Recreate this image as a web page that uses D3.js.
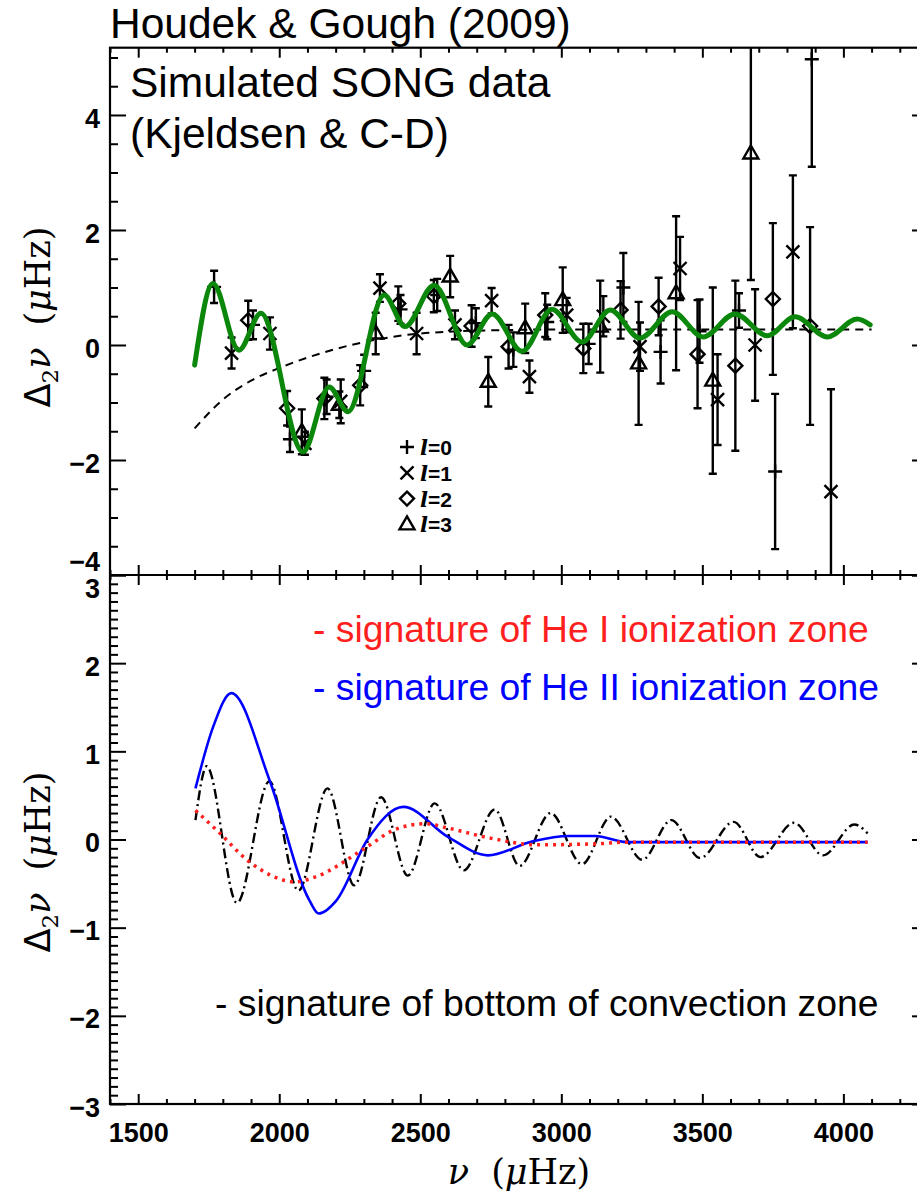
<!DOCTYPE html>
<html>
<head>
<meta charset="utf-8">
<script src="https://cdn.jsdelivr.net/npm/d3@7"></script>
<style>
    body { margin: 0; background: #fff; }
    text { font-family: "Liberation Sans", Arial, sans-serif; fill: #000; }
    .tick text { font-family: "Liberation Sans", Arial, sans-serif; font-weight: bold; font-size: 27px; }
</style>
</head>
<body>
<div id="chart"></div>
<script>
// ---- top panel: simulated SONG data, second differences (muHz) ----
const nuL0  = [1769, 1907, 2038, 2168, 2301, 2430, 2560, 2697, 2830, 2950, 3097, 3220, 3352, 3490, 3630, 3758, 3888]
const dL0   = [1.01, 0.35, -1.64, -0.90, -0.45, 0.62, 0.87, 0.38, -0.08, 0.40, 0.02, 1.00, -0.12, 0.24, 0.60, -2.20, 4.97]
const errL0 = [0.28, 0.25, 0.22, 0.30, 0.28, 0.25, 0.28, 0.26, 0.30, 0.30, 0.35, 0.60, 0.55, 0.55, 0.30, 1.35, 1.87]

const nuL1  = [1831, 1967, 2091, 2218, 2357, 2487, 2623, 2753, 2887, 3019, 3149, 3279, 3421, 3554, 3687, 3821, 3956]
const dL1   = [-0.14, 0.20, -1.71, -0.98, 0.99, 0.20, 0.35, 0.77, -0.55, 0.52, 0.50, -0.03, 1.33, -0.95, 0.00, 1.62, -2.55]
const errL1 = [0.27, 0.28, 0.20, 0.38, 0.24, 0.36, 0.25, 0.22, 0.28, 0.30, 0.35, 0.42, 0.55, 0.79, 0.97, 1.33, 1.78]

const nuL2  = [1890, 2028, 2160, 2287, 2422, 2548, 2682, 2813, 2943, 3078, 3210, 3345, 3483, 3617, 3750, 3882]
const dL2   = [0.43, -1.10, -0.93, -0.70, 0.72, 0.85, 0.33, -0.03, 0.52, -0.06, 0.61, 0.67, -0.16, -0.36, 0.80, 0.33]
const errL2 = [0.34, 0.30, 0.36, 0.35, 0.30, 0.28, 0.36, 0.38, 0.38, 0.43, 0.50, 0.50, 0.94, 1.48, 1.32, 1.72]

const nuL3  = [2080, 2213, 2342, 2606, 2741, 2872, 3005, 3138, 3274, 3407, 3537, 3672]
const dL3   = [-1.51, -1.04, 0.20, 1.19, -0.64, 0.29, 0.78, 0.32, -0.32, 0.90, -0.62, 3.33]
const errL3 = [0.39, 0.23, 0.36, 0.36, 0.43, 0.43, 0.57, 0.80, 1.07, 1.34, 1.62, 2.20]

// fitted model (green) and smooth component (dashed)
const fitNu = [1700, 1765, 1857, 1935, 2084, 2177, 2244, 2372, 2446, 2549, 2666, 2755, 2861, 2967, 3074, 3173, 3279, 3393, 3503, 3616, 3730, 3829, 3943, 4049, 4095]
const fitD  = [-0.35, 1.07, -0.09, 0.55, -1.86, -0.73, -1.16, 0.87, 0.32, 1.04, 0.00, 0.54, -0.11, 0.62, 0.05, 0.61, 0.12, 0.58, 0.14, 0.54, 0.16, 0.49, 0.14, 0.45, 0.35]
const smoothNu = [1700, 1800, 1900, 2000, 2100, 2200, 2300, 2400, 2500, 2600, 2800, 3000, 4100]
const smoothD  = [-1.45, -0.95, -0.62, -0.40, -0.22, -0.07, 0.05, 0.14, 0.20, 0.23, 0.26, 0.27, 0.27]

// ---- bottom panel: individual signatures ----
const heINu  = [1703, 1790, 1885, 2060, 2123, 2313, 2408, 2519, 2598, 2756, 2914, 3120, 3231, 4086]
const heID   = [0.33, 0.07, -0.23, -0.48, -0.43, -0.08, 0.11, 0.18, 0.13, 0.01, -0.06, -0.05, -0.03, -0.03]
const heIINu = [1703, 1766, 1830, 1966, 2107, 2140, 2203, 2313, 2440, 2598, 2740, 2899, 3026, 3120, 3231, 4086]
const heIID  = [0.58, 1.28, 1.66, 0.67, -0.69, -0.84, -0.69, 0.00, 0.37, 0.03, -0.18, -0.02, 0.04, 0.04, -0.03, -0.03]
const bczNu  = [1703, 1743, 1850, 1965, 2068, 2171, 2266, 2361, 2456, 2551, 2654, 2764, 2852, 2962, 3073, 3176, 3287, 3390, 3492, 3611, 3706, 3825, 3928, 4039, 4086]
const bczD   = [0.22, 0.83, -0.72, 0.66, -0.58, 0.58, -0.52, 0.48, -0.41, 0.41, -0.35, 0.34, -0.30, 0.30, -0.28, 0.26, -0.23, 0.22, -0.21, 0.20, -0.20, 0.19, -0.18, 0.17, 0.07]

// ticks
const xMajor = [1500, 2000, 2500, 3000, 3500, 4000]
const yTopMajor = [-4, -2, 0, 2, 4]
const yBotMajor = [-3, -2, -1, 0, 1, 2, 3]


const width = 917, height = 1197
const margin = {left: 110, right: 928, top: 47.7, mid: 575, bottom: 1104}

const svg = d3.select('#chart').append('svg')
    .attr('width', width)
    .attr('height', height)

const x = d3.scaleLinear().domain([1400, 4300]).range([margin.left, margin.right])
const yTop = d3.scaleLinear().domain([-4, 5.17]).range([margin.mid, margin.top])
const yBot = d3.scaleLinear().domain([-3, 3]).range([margin.bottom, margin.mid])

const xMinor = d3.range(1400, 4301, 100).filter(v => !xMajor.includes(v))
const yTopMinor = d3.range(-4, 5.01, 0.5).filter(v => !yTopMajor.includes(v))
const yBotMinor = d3.range(-30, 31, 1).map(v => v / 10).filter(v => !yBotMajor.includes(v))

// clip paths
const defs = svg.append('defs')
defs.append('clipPath').attr('id', 'clipTop').append('rect')
    .attr('x', margin.left).attr('y', margin.top)
    .attr('width', margin.right - margin.left).attr('height', margin.mid - margin.top)
defs.append('clipPath').attr('id', 'clipBot').append('rect')
    .attr('x', margin.left).attr('y', margin.mid)
    .attr('width', margin.right - margin.left).attr('height', margin.bottom - margin.mid)

// ---------- axes ----------
function drawAxis(axisFn, scale, values, size, transform, labels, pad) {
    let ax = axisFn(scale).tickValues(values).tickSizeInner(size).tickSizeOuter(0).tickPadding(pad || 8)
    if (!labels) ax.tickFormat('')
    else ax.tickFormat(d => d3.format('d')(d).replace('-', '\u2212'))
    let g = svg.append('g').attr('transform', transform).call(ax)
    g.select('.domain').remove()
    g.selectAll('line').attr('stroke', '#000').attr('stroke-width', 2)
    return g
}

// x ticks: top of top panel, shared middle line, bottom
drawAxis(d3.axisTop, x, xMajor, -10, `translate(0,${margin.top})`, false)
drawAxis(d3.axisTop, x, xMinor, -5, `translate(0,${margin.top})`, false)
drawAxis(d3.axisBottom, x, xMajor, -10, `translate(0,${margin.mid})`, false)
drawAxis(d3.axisBottom, x, xMinor, -5, `translate(0,${margin.mid})`, false)
drawAxis(d3.axisTop, x, xMajor, -10, `translate(0,${margin.mid})`, false)
drawAxis(d3.axisTop, x, xMinor, -5, `translate(0,${margin.mid})`, false)
drawAxis(d3.axisBottom, x, xMajor, -10, `translate(0,${margin.bottom})`, true, 19)
drawAxis(d3.axisBottom, x, xMinor, -5, `translate(0,${margin.bottom})`, false)

// y ticks (the -4 / 3 labels sit either side of the shared line)
drawAxis(d3.axisLeft, yTop, yTopMajor, -16, `translate(${margin.left},0)`, true, 10)
    .selectAll('text').attr('dy', d => d === -4 ? '-0.17em' : '0.45em')
drawAxis(d3.axisLeft, yTop, yTopMinor, -8, `translate(${margin.left},0)`, false)
drawAxis(d3.axisRight, yTop, yTopMajor, -16, `translate(${margin.right},0)`, false)
drawAxis(d3.axisRight, yTop, yTopMinor, -8, `translate(${margin.right},0)`, false)

drawAxis(d3.axisLeft, yBot, yBotMajor, -16, `translate(${margin.left},0)`, true, 10)
    .selectAll('text').attr('dy', d => d === 3 ? '0.85em' : '0.45em')
drawAxis(d3.axisLeft, yBot, yBotMinor, -8, `translate(${margin.left},0)`, false)
drawAxis(d3.axisRight, yBot, yBotMajor, -16, `translate(${margin.right},0)`, false)
drawAxis(d3.axisRight, yBot, yBotMinor, -8, `translate(${margin.right},0)`, false)

// frames
svg.append('rect')
    .attr('x', margin.left).attr('y', margin.top)
    .attr('width', margin.right - margin.left).attr('height', margin.bottom - margin.top)
    .attr('fill', 'none').attr('stroke', '#000').attr('stroke-width', 2.2)
svg.append('line')
    .attr('x1', margin.left).attr('x2', margin.right)
    .attr('y1', margin.mid).attr('y2', margin.mid)
    .attr('stroke', '#000').attr('stroke-width', 2.2)

// ---------- top panel ----------
let topPanel = svg.append('g').attr('clip-path', 'url(#clipTop)')

let lineTop = d3.line().x(d => x(d[0])).y(d => yTop(d[1])).curve(d3.curveMonotoneX)

topPanel.append('path')
    .attr('d', lineTop(d3.zip(smoothNu, smoothD)))
    .attr('fill', 'none').attr('stroke', '#000').attr('stroke-width', 2)
    .attr('stroke-dasharray', '8,6')

// symbols (psym style)
function symbolPath(type) {
    if (type === 0) return 'M-7,0H7M0,-7V7'
    if (type === 1) return 'M-6.5,-6.5L6.5,6.5M-6.5,6.5L6.5,-6.5'
    if (type === 2) return 'M0,-7L7,0L0,7L-7,0Z'
    return 'M0,-8L7.5,5L-7.5,5Z'
}

let series = [
    {l: 0, nu: nuL0, d: dL0, err: errL0},
    {l: 1, nu: nuL1, d: dL1, err: errL1},
    {l: 2, nu: nuL2, d: dL2, err: errL2},
    {l: 3, nu: nuL3, d: dL3, err: errL3}
]

series.forEach(s => {
    let pts = s.nu.map((n, i) => ({nu: n, d: s.d[i], err: s.err[i]}))
    let g = topPanel.append('g').attr('class', 'l' + s.l)

    // error bars
    g.selectAll('path.err').data(pts).enter().append('path')
        .attr('class', 'err')
        .attr('d', p => {
            let cx = x(p.nu), y1 = yTop(p.d + p.err), y2 = yTop(p.d - p.err)
            return `M${cx},${y1}V${y2}M${cx - 4},${y1}H${cx + 4}M${cx - 4},${y2}H${cx + 4}`
        })
        .attr('fill', 'none').attr('stroke', '#000').attr('stroke-width', 2.4)

    g.selectAll('path.sym').data(pts).enter().append('path')
        .attr('class', 'sym')
        .attr('transform', p => `translate(${x(p.nu)},${yTop(p.d)})`)
        .attr('d', symbolPath(s.l))
        .attr('fill', 'none').attr('stroke', '#000').attr('stroke-width', 2.4)
})

// fitted curve
topPanel.append('path')
    .attr('d', lineTop(d3.zip(fitNu, fitD)))
    .attr('fill', 'none').attr('stroke', '#0b870b').attr('stroke-width', 5)
    .attr('stroke-linecap', 'round')

// legend
let legendLabels = ['0', '1', '2', '3']
let legend = svg.append('g').attr('transform', 'translate(407,447)')
legendLabels.forEach((lab, i) => {
    let row = legend.append('g').attr('transform', `translate(0,${i * 25.8})`)
    row.append('path').attr('d', symbolPath(i))
        .attr('fill', 'none').attr('stroke', '#000').attr('stroke-width', 2.4)
    let t = row.append('text').attr('x', 13).attr('y', 8)
        .style('font-size', '21px').style('font-weight', 'bold')
    t.append('tspan').style('font-family', '"DejaVu Serif", serif').style('font-style', 'italic').text('l')
    t.append('tspan').text('=' + lab)
})

// texts
svg.append('text').attr('x', 110).attr('y', 38)
    .style('font-size', '42.5px').text('Houdek & Gough (2009)')
svg.append('text').attr('x', 130).attr('y', 97)
    .style('font-size', '42.5px').text('Simulated SONG data')
svg.append('text').attr('x', 130).attr('y', 148)
    .style('font-size', '42.5px').text('(Kjeldsen & C-D)')

// ---------- bottom panel ----------
let botPanel = svg.append('g').attr('clip-path', 'url(#clipBot)')
let lineBot = d3.line().x(d => x(d[0])).y(d => yBot(d[1])).curve(d3.curveMonotoneX)

botPanel.append('path')
    .attr('d', lineBot(d3.zip(bczNu, bczD)))
    .attr('fill', 'none').attr('stroke', '#000').attr('stroke-width', 2.4)
    .attr('stroke-dasharray', '10,4,2,4')

botPanel.append('path')
    .attr('d', lineBot(d3.zip(heIINu, heIID)))
    .attr('fill', 'none').attr('stroke', '#0000ff').attr('stroke-width', 2.6)

botPanel.append('path')
    .attr('d', lineBot(d3.zip(heINu, heID)))
    .attr('fill', 'none').attr('stroke', '#ff1f1f').attr('stroke-width', 3.5)
    .attr('stroke-dasharray', '3,5')

svg.append('text').attr('x', 313).attr('y', 642)
    .style('font-size', '37.3px').style('fill', '#ff1f1f')
    .text('- signature of He I ionization zone')
svg.append('text').attr('x', 313).attr('y', 700)
    .style('font-size', '37.3px').style('fill', '#0000ff')
    .text('- signature of He II ionization zone')
svg.append('text').attr('x', 215).attr('y', 1016)
    .style('font-size', '37.3px')
    .text('- signature of bottom of convection zone')

// axis titles
function yTitle(cx, cy) {
    let t = svg.append('text')
        .attr('transform', `translate(${cx},${cy}) rotate(-90)`)
        .attr('text-anchor', 'middle')
        .style('font-family', '"DejaVu Serif", serif').style('font-size', '35px')
    t.append('tspan').style('font-family', '"DejaVu Sans", sans-serif').text('\u0394')
    t.append('tspan').attr('dy', 8).style('font-size', '23px').text('2')
    t.append('tspan').attr('dy', -8).style('font-style', 'italic').text('\u03bd')
    t.append('tspan').attr('dx', 22).text('(')
    t.append('tspan').style('font-style', 'italic').text('\u03bc')
    t.append('tspan').text('Hz)')
}
yTitle(50, 317)
yTitle(50, 862)

let xt = svg.append('text')
    .attr('x', 519).attr('y', 1184).attr('text-anchor', 'middle')
    .style('font-family', '"DejaVu Serif", serif').style('font-size', '35px')
xt.append('tspan').style('font-style', 'italic').text('\u03bd')
xt.append('tspan').attr('dx', 22).text('(')
xt.append('tspan').style('font-style', 'italic').text('\u03bc')
xt.append('tspan').text('Hz)')
</script>
</body>
</html>
